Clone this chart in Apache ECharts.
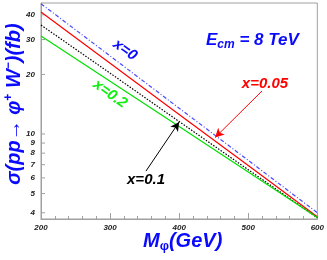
<!DOCTYPE html>
<html><head><meta charset="utf-8">
<script src="https://cdn.jsdelivr.net/npm/echarts@6/dist/echarts.min.js"></script>
<style>html,body{margin:0;padding:0;background:#fff}#c{width:327px;height:260px}</style>
</head><body><div id="c"></div>
<script>
var masses = [200, 300, 400, 500, 600];
var x0    = [45.5, 24.8, 13.5, 7.36, 4.0];
var x005  = [41.3, 22.8, 12.56, 6.93, 3.82];
var x01   = [35.5, 20.3, 11.56, 6.6, 3.77];
var x02   = [31.3, 18.45, 10.9, 6.43, 3.79];
var yTicks = [4, 5, 6, 7, 8, 9, 10, 20, 30, 40];
var xTicks = [200, 300, 400, 500, 600];
var arrow01  = [[352, 6.5], [400, 11.5]];
var arrow005 = [[520, 16.5], [452, 9.6]];

function pairs(ys){ return masses.map(function(m,i){ return [m, ys[i]]; }); }
var FONT = 'Liberation Sans';
var chart = echarts.init(document.getElementById('c'));
chart.setOption({
  animation: false,
  grid: {left: 41, right: 7, top: 3, bottom: 41, show: true, borderColor: '#a0a0a0', borderWidth: 1},
  xAxis: {
    type: 'value', min: 200, max: 600, interval: 100,
    axisLine: {show: true, lineStyle: {color: '#a0a0a0'}},
    axisTick: {show: true, inside: true, length: 6, lineStyle: {color: '#a0a0a0'}},
    minorTick: {show: true, splitNumber: 5, length: 3, lineStyle: {color: '#a0a0a0'}},
    splitLine: {show: false},
    axisLabel: {fontFamily: FONT, fontSize: 8, fontWeight: 'bold', fontStyle: 'italic', color: '#222', margin: 5,
      formatter: function(v){ return xTicks.indexOf(v) >= 0 ? String(v) : ''; }}
  },
  yAxis: {
    type: 'log', logBase: 10, min: 3.72, max: 45.9,
    axisLine: {show: true, lineStyle: {color: '#a0a0a0'}},
    axisTick: {show: false}, axisLabel: {show: false}, splitLine: {show: false}
  },
  series: [
    {type: 'line', data: pairs(x0), showSymbol: false, symbol: 'none',
     lineStyle: {color: '#4a4aff', width: 1.2, type: [4, 2, 1, 2]}},
    {type: 'line', data: pairs(x005), showSymbol: false, symbol: 'none',
     lineStyle: {color: '#ff0000', width: 1.2},
     markLine: {silent: true, symbol: ['none', 'arrow'], symbolSize: [7, 9], label: {show: false},
       lineStyle: {color: '#ff0000', width: 1, type: 'solid'},
       data: [[{coord: arrow005[0]}, {coord: arrow005[1]}]]}},
    {type: 'line', data: pairs(x01), showSymbol: false, symbol: 'none',
     lineStyle: {color: '#000', width: 1.2, type: [1.5, 1.5]},
     markLine: {silent: true, symbol: ['none', 'arrow'], symbolSize: [7, 9], label: {show: false},
       lineStyle: {color: '#000', width: 1, type: 'solid'},
       data: [[{coord: arrow01[0]}, {coord: arrow01[1]}]]}},
    {type: 'line', data: pairs(x02), showSymbol: false, symbol: 'none',
     lineStyle: {color: '#00e000', width: 1.2}},
    {type: 'custom', clip: false, silent: true,
     data: yTicks.map(function(v){ return [200, v]; }),
     renderItem: function(params, api){
       var p = api.coord([200, api.value(1)]);
       return {type: 'group', children: [
         {type: 'line', shape: {x1: p[0], y1: p[1], x2: p[0] + 4, y2: p[1]}, style: {stroke: '#a0a0a0', lineWidth: 1}},
         {type: 'text', x: p[0] - 6, y: p[1], style: {text: String(api.value(1)), align: 'right', verticalAlign: 'middle',
           font: 'italic bold 8px "Liberation Sans"', fill: '#222'}}
       ]};
     }}
  ],
  graphic: [
    {type: 'text', left: 143, top: 231, style: {
      rich: {m: {fontFamily: FONT, fontSize: 20, fontWeight: 'bold', fontStyle: 'italic', fill: '#0a0aff'},
             s: {fontFamily: FONT, fontSize: 13, fontWeight: 'bold', fill: '#0a0aff', padding: [10, 0, 0, 0]}},
      text: '{m|M}{s|φ}{m|(GeV)}'}},
    {type: 'text', x: 14, y: 104, rotation: Math.PI / 2, style: {
      align: 'center', verticalAlign: 'middle',
      rich: {m: {fontFamily: FONT, fontSize: 20, fontWeight: 'bold', fontStyle: 'italic', fill: '#0a0aff'},
             u: {fontFamily: FONT, fontSize: 12, fontWeight: 'bold', fill: '#0a0aff', padding: [0, 0, 10, 0]}},
      text: '{m|σ(pp→ φ}{u|+}{m| W}{u|−}{m|)(fb)}'}},
    {type: 'text', left: 206, top: 32, style: {
      rich: {m: {fontFamily: FONT, fontSize: 17, fontWeight: 'bold', fontStyle: 'italic', fill: '#0a0aff'},
             s: {fontFamily: FONT, fontSize: 12, fontWeight: 'bold', fontStyle: 'italic', fill: '#0a0aff', padding: [8, 0, 0, 0]}},
      text: '{m|E}{s|cm}{m| = 8 TeV}'}},
    {type: 'text', x: 125, y: 50, rotation: -0.62, style: {text: 'x=0', align: 'center', verticalAlign: 'middle',
      font: 'italic bold 15px "Liberation Sans"', fill: '#0a0aff'}},
    {type: 'text', x: 110, y: 94, rotation: -0.62, style: {text: 'x=0.2', align: 'center', verticalAlign: 'middle',
      font: 'italic bold 15px "Liberation Sans"', fill: '#11ee11'}},
    {type: 'text', x: 146, y: 180, style: {text: 'x=0.1', align: 'center', verticalAlign: 'middle',
      font: 'italic bold 15px "Liberation Sans"', fill: '#000'}},
    {type: 'text', x: 265, y: 84, style: {text: 'x=0.05', align: 'center', verticalAlign: 'middle',
      font: 'italic bold 15px "Liberation Sans"', fill: '#ff0000'}}
  ]
});
</script></body></html>
